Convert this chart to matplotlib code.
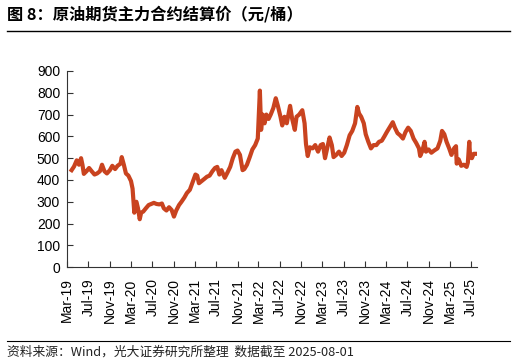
import matplotlib
matplotlib.use("Agg")
import matplotlib.pyplot as plt
import matplotlib.dates as mdates
import pandas as pd

plt.rcParams['font.family'] = ['Liberation Sans', 'Noto Sans CJK SC', 'DejaVu Sans']

# settlement price of the main SC crude contract (yuan/barrel)
dates = [
    "2019-03-27", "2019-04-10", "2019-04-25", "2019-05-08", "2019-05-20", "2019-05-28",
    "2019-06-05", "2019-06-20", "2019-07-05", "2019-07-20", "2019-08-05", "2019-08-20",
    "2019-09-05", "2019-09-17", "2019-10-01", "2019-10-15", "2019-11-01", "2019-11-15",
    "2019-12-01", "2019-12-15", "2020-01-01", "2020-01-08", "2020-01-20", "2020-02-01",
    "2020-02-15", "2020-03-01", "2020-03-10", "2020-03-20", "2020-03-25", "2020-04-01",
    "2020-04-10", "2020-04-20", "2020-04-28", "2020-05-10", "2020-05-25", "2020-06-10",
    "2020-06-25", "2020-07-10", "2020-07-25", "2020-08-10", "2020-08-25", "2020-09-05",
    "2020-09-20", "2020-10-05", "2020-10-20", "2020-11-02", "2020-11-15", "2020-12-01",
    "2020-12-15", "2021-01-01", "2021-01-15", "2021-02-01", "2021-02-15", "2021-03-05",
    "2021-03-15", "2021-03-25", "2021-04-10", "2021-04-25", "2021-05-10", "2021-05-25",
    "2021-06-10", "2021-06-25", "2021-07-08", "2021-07-20", "2021-08-01", "2021-08-20",
    "2021-09-05", "2021-09-20", "2021-10-05", "2021-10-20", "2021-11-01", "2021-11-15",
    "2021-11-30", "2021-12-10", "2021-12-25", "2022-01-10", "2022-01-25", "2022-02-10",
    "2022-02-25", "2022-03-07", "2022-03-09", "2022-03-16", "2022-03-25", "2022-04-05",
    "2022-04-15", "2022-04-28", "2022-05-10", "2022-05-25", "2022-06-08", "2022-06-20",
    "2022-07-05", "2022-07-15", "2022-07-28", "2022-08-10", "2022-08-29", "2022-09-10",
    "2022-09-25", "2022-10-05", "2022-10-20", "2022-11-07", "2022-11-20", "2022-11-28",
    "2022-12-08", "2022-12-20", "2023-01-05", "2023-01-20", "2023-02-05", "2023-02-20",
    "2023-03-05", "2023-03-17", "2023-03-28", "2023-04-12", "2023-04-25", "2023-05-05",
    "2023-05-20", "2023-06-05", "2023-06-20", "2023-07-05", "2023-07-20", "2023-08-05",
    "2023-08-20", "2023-09-05", "2023-09-18", "2023-09-28", "2023-10-10", "2023-10-25",
    "2023-11-05", "2023-11-20", "2023-12-05", "2023-12-20", "2024-01-05", "2024-01-20",
    "2024-02-05", "2024-02-20", "2024-03-05", "2024-03-20", "2024-04-08", "2024-04-20",
    "2024-05-05", "2024-05-20", "2024-06-05", "2024-06-20", "2024-07-05", "2024-07-20",
    "2024-08-05", "2024-08-20", "2024-09-05", "2024-09-12", "2024-09-25", "2024-10-07",
    "2024-10-15", "2024-10-30", "2024-11-15", "2024-12-01", "2024-12-20", "2025-01-05",
    "2025-01-15", "2025-01-28", "2025-02-10", "2025-02-25", "2025-03-10", "2025-03-25",
    "2025-04-05", "2025-04-09", "2025-04-20", "2025-05-05", "2025-05-20", "2025-06-05",
    "2025-06-12", "2025-06-20", "2025-06-25", "2025-07-05", "2025-07-15", "2025-08-01",
]
prices = [
    445, 462, 490, 470, 500, 470,
    428, 440, 455, 440, 425, 430,
    440, 470, 440, 430, 445, 465,
    450, 465, 475, 505, 470, 430,
    420, 395, 360, 250, 290, 300,
    270, 220, 250, 255, 270, 285,
    290, 295, 290, 288, 292, 270,
    260, 275, 262, 232, 260, 285,
    300, 320, 340, 355, 385, 425,
    420, 385, 395, 405, 415, 420,
    440, 455, 460, 425, 445, 410,
    435, 460, 500, 530, 535, 515,
    445, 450, 470, 505, 540, 560,
    590, 780, 810, 630, 700, 660,
    700, 680, 700, 730, 775, 740,
    690, 650, 690, 660, 740, 680,
    630, 690, 700, 720, 660, 565,
    510, 550, 545, 560, 530, 560,
    565, 500, 540, 595, 560, 505,
    515, 530, 510, 525, 560, 605,
    625, 660, 735, 705, 690, 660,
    610, 575, 545, 560, 560, 575,
    580, 600, 620, 640, 665, 640,
    615, 605, 590, 620, 640, 625,
    590, 570, 545, 510, 535, 575,
    530, 540, 525, 535, 545, 580,
    625, 610, 575, 545, 515, 545,
    555, 475, 495, 465, 470, 460,
    480, 575, 505, 500, 520, 520,
]

title = "图 8：原油期货主力合约结算价（元/桶）"
source = "资料来源：Wind，光大证券研究所整理  数据截至 2025-08-01"

s = pd.Series(prices, index=pd.to_datetime(dates))

fig = plt.figure(figsize=(5.16, 3.64), dpi=100)
ax = fig.add_axes([0.130, 0.266, 0.795, 0.539])

ax.plot(s.index, s.values, color="#C9431F", linewidth=3.0, solid_joinstyle="round")

ax.set_ylim(0, 900)
ax.set_yticks(range(0, 901, 100))
ax.set_xlim(pd.Timestamp("2019-03-01"), pd.Timestamp("2025-08-05"))
ax.xaxis.set_major_locator(mdates.MonthLocator(bymonth=[3, 7, 11]))
ax.xaxis.set_major_formatter(mdates.DateFormatter("%b-%y"))
for lbl in ax.get_xticklabels():
    lbl.set_rotation(90)

for side in ("top", "right"):
    ax.spines[side].set_visible(False)
for side in ("left", "bottom"):
    ax.spines[side].set_linewidth(0.8)
    ax.spines[side].set_color("#333333")
ax.tick_params(direction="in", length=4, width=0.8, color="#333333",
               labelsize=10, labelcolor="black")
ax.tick_params(axis="y", pad=5)
ax.tick_params(axis="x", pad=8)

fig.text(0.014, 0.962, title, fontsize=11.7, fontweight="bold", va="center",
         family=["Noto Sans CJK SC", "DejaVu Sans"])
fig.add_artist(plt.Line2D([0.014, 0.988], [0.915, 0.915], color="black", linewidth=1.0))
fig.add_artist(plt.Line2D([0.014, 0.988], [0.063, 0.063], color="black", linewidth=0.8))
fig.text(0.014, 0.032, source, fontsize=9.2, va="center", color="#222222",
         family=["Noto Sans CJK SC", "DejaVu Sans"])

fig.savefig("out.png", dpi=100)
